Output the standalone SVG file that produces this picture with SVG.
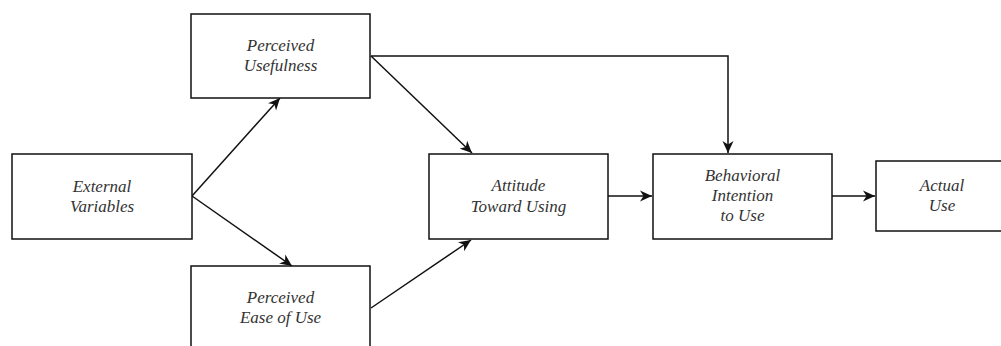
<svg xmlns="http://www.w3.org/2000/svg" width="1001" height="346" viewBox="0 0 1001 346">
<style>
.box{fill:#fff;stroke:#111;stroke-width:1.5}
.lbl{font-family:"Liberation Serif",serif;font-style:italic;font-size:17px;fill:#333;text-anchor:middle}
.edge{fill:none;stroke:#111;stroke-width:1.5}
</style>
<defs>
<marker id="arr" markerUnits="userSpaceOnUse" markerWidth="14" markerHeight="12" refX="12" refY="6" orient="auto">
<path d="M0,0.5 L12,6 L0,11.5 L3.5,6 Z" fill="#111"/>
</marker>
</defs>
<rect width="1001" height="346" fill="#fff"/>
<g id="connectors">
<path class="edge" d="M192,196 L280,98" marker-end="url(#arr)"/>
<path class="edge" d="M192,196 L292,266" marker-end="url(#arr)"/>
<path class="edge" d="M371,56 L472,153" marker-end="url(#arr)"/>
<path class="edge" d="M371,308 L471,240" marker-end="url(#arr)"/>
<path class="edge" d="M371,56 L728,56 L728,153" marker-end="url(#arr)"/>
<path class="edge" d="M608,196 L652,196" marker-end="url(#arr)"/>
<path class="edge" d="M832,196 L875,196" marker-end="url(#arr)"/>
</g>
<g id="external">
<rect class="box" x="12" y="154" width="180" height="85"/>
<text class="lbl" x="102" y="192">External</text>
<text class="lbl" x="102" y="212">Variables</text>
</g>
<g id="usefulness">
<rect class="box" x="191" y="14" width="179" height="84"/>
<text class="lbl" x="280.5" y="51">Perceived</text>
<text class="lbl" x="280.5" y="71">Usefulness</text>
</g>
<g id="ease">
<rect class="box" x="191" y="266" width="179" height="84"/>
<text class="lbl" x="280.5" y="303">Perceived</text>
<text class="lbl" x="280.5" y="323">Ease of Use</text>
</g>
<g id="attitude">
<rect class="box" x="429" y="154" width="179" height="85"/>
<text class="lbl" x="518.5" y="191">Attitude</text>
<text class="lbl" x="518.5" y="211.5">Toward Using</text>
</g>
<g id="intention">
<rect class="box" x="653" y="154" width="179" height="85"/>
<text class="lbl" x="742.5" y="180.5">Behavioral</text>
<text class="lbl" x="742.5" y="201">Intention</text>
<text class="lbl" x="742.5" y="221">to Use</text>
</g>
<g id="actual">
<rect class="box" x="876" y="161" width="132" height="70"/>
<text class="lbl" x="942" y="190.5">Actual</text>
<text class="lbl" x="942" y="211">Use</text>
</g>
</svg>
